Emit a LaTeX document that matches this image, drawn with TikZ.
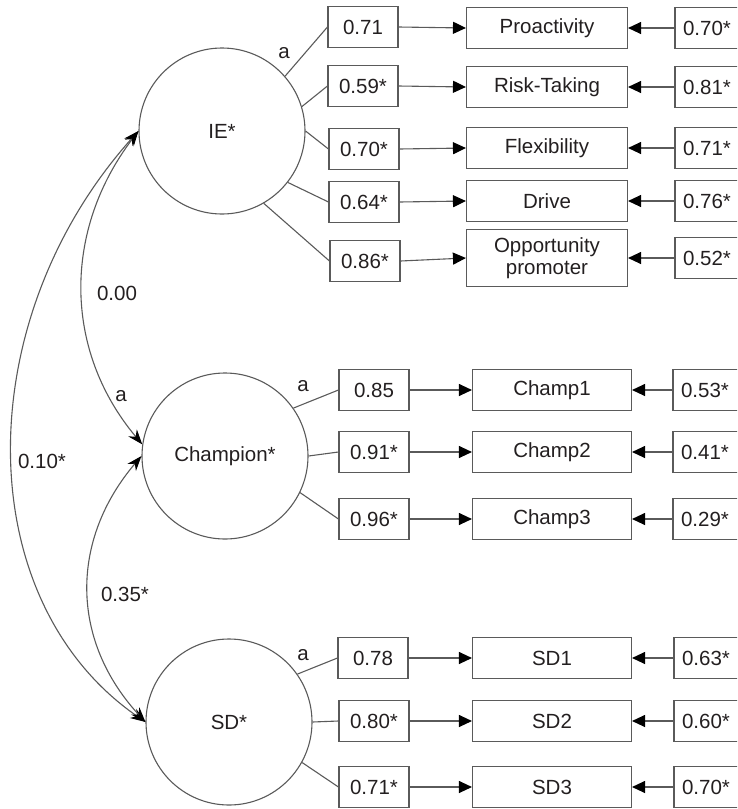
\documentclass[tikz,border=0pt]{standalone}
\usepackage{fontspec}
\setmainfont{Liberation Sans}
\usetikzlibrary{arrows.meta}
\definecolor{ln}{HTML}{5A5A5A}
\definecolor{tx}{HTML}{231F20}
\begin{document}
\begin{tikzpicture}[x=1pt,y=-1pt,
  every node/.style={font=\fontsize{20.5}{25}\selectfont, text=tx},
  latent/.style={circle, draw=ln, line width=1.1pt, minimum size=166pt, inner sep=0pt},
  ldbox/.style={draw=ln, line width=1.1pt, minimum width=70pt, minimum height=41pt, inner sep=0pt},
  indbox/.style={draw=ln, line width=1.1pt, minimum width=161pt, minimum height=41pt, inner sep=0pt, align=center},
  errbox/.style={draw=ln, line width=1.1pt, minimum width=70pt, minimum height=41pt, inner sep=0pt},
  path/.style={draw=ln, line width=1.1pt},
  arr/.style={draw=ln, line width=1.1pt, -{Triangle[length=13pt,width=12pt,fill=black,color=black]}},
  cov/.style={draw=ln, line width=1.1pt, {Stealth[length=15pt,width=11pt,fill=black,color=black]}-{Stealth[length=15pt,width=11pt,fill=black,color=black]}},
  lab/.style={inner sep=0pt}
]
\useasboundingbox (0,0) rectangle (737,809);
\clip (0,0) rectangle (737,809);

% latent variables
\node[latent] (IE) at (222,131) {IE*};
\node[latent] (CH) at (225,456) {Champion*};
\node[latent] (SD) at (229,722) {SD*};

% IE block
\node[ldbox] (l1) at (363,27) {0.71};
\node[ldbox] (l2) at (363,86) {0.59*};
\node[ldbox] (l3) at (364,149) {0.70*};
\node[ldbox] (l4) at (364,202) {0.64*};
\node[ldbox] (l5) at (365,261) {0.86*};
\node[indbox] (i1) at (547,28) {Proactivity};
\node[indbox] (i2) at (547,87) {Risk-Taking};
\node[indbox] (i3) at (547,148) {Flexibility};
\node[indbox] (i4) at (547,201) {Drive};
\node[indbox, minimum height=57pt] (i5) at (547,258) {Opportunity\\[-3pt]promoter};
\node[errbox] (e1) at (710,28) {\hspace*{-6pt}0.70*};
\node[errbox] (e2) at (710,87) {\hspace*{-6pt}0.81*};
\node[errbox] (e3) at (710,148) {\hspace*{-6pt}0.71*};
\node[errbox] (e4) at (710,201) {\hspace*{-6pt}0.76*};
\node[errbox] (e5) at (710,258) {\hspace*{-6pt}0.52*};

% Champion block
\node[ldbox] (c1l) at (374,390) {0.85};
\node[ldbox] (c2l) at (374,452) {0.91*};
\node[ldbox] (c3l) at (374,519) {0.96*};
\node[indbox, minimum width=159pt] (c1) at (552,390) {Champ1};
\node[indbox, minimum width=159pt] (c2) at (552,452) {Champ2};
\node[indbox, minimum width=159pt] (c3) at (552,519) {Champ3};
\node[errbox] (ce1) at (708,390) {\hspace*{-6pt}0.53*};
\node[errbox] (ce2) at (708,452) {\hspace*{-6pt}0.41*};
\node[errbox] (ce3) at (708,519) {\hspace*{-6pt}0.29*};

% SD block
\node[ldbox] (s1l) at (373,658) {0.78};
\node[ldbox] (s2l) at (374,721) {0.80*};
\node[ldbox] (s3l) at (374,787) {0.71*};
\node[indbox, minimum width=159pt] (s1) at (552,658) {SD1};
\node[indbox, minimum width=159pt] (s2) at (552,721) {SD2};
\node[indbox, minimum width=159pt] (s3) at (552,787) {SD3};
\node[errbox] (se1) at (709,658) {\hspace*{-6pt}0.63*};
\node[errbox] (se2) at (709,721) {\hspace*{-6pt}0.60*};
\node[errbox] (se3) at (709,787) {\hspace*{-6pt}0.70*};

% latent to loading boxes
\draw[path] (IE.41) -- (l1.west);
\draw[path] (IE.17) -- (l2.west);
\draw[path] (IE.0) -- (l3.west);
\draw[path] (IE.-38) -- (l4.west);
\draw[path] (IE.-60) -- (l5.west);
\draw[path] (CH.35) -- (c1l.west);
\draw[path] (CH.0) -- (c2l.west);
\draw[path] (CH.-26) -- (c3l.west);
\draw[path] (SD.35) -- (s1l.west);
\draw[path] (SD.0) -- (s2l.west);
\draw[path] (SD.-29) -- (s3l.west);

% loading boxes to indicators
\foreach \a/\b in {l1/i1,l2/i2,l3/i3,l4/i4,l5/i5,c1l/c1,c2l/c2,c3l/c3,s1l/s1,s2l/s2,s3l/s3}
  \draw[arr] (\a.east) -- (\b.west);
% errors to indicators
\foreach \a/\b in {e1/i1,e2/i2,e3/i3,e4/i4,e5/i5,ce1/c1,ce2/c2,ce3/c3,se1/s1,se2/s2,se3/s3}
  \draw[arr] (\a.west) -- (\b.east);

% "a" labels
\node[lab] (aIE) at (284,53) {a};
\node[lab] (aCH) at (303,386) {a};
\node[lab] (aSD) at (303,655) {a};

% covariances
\draw[cov] (IE.180) .. controls (63,230) and (63,350) .. (CH.172);
\draw[cov] (IE.180) .. controls (-31,320) and (-31,600) .. (SD.180);
\draw[cov] (CH.180) .. controls (70,540) and (70,640) .. (SD.180);
\node[lab] (v1) at (117,293) {0.00};
\node[lab] (va) at (121,396) {a};
\node[lab] (v2) at (42,461) {0.10*};
\node[lab] (v3) at (125,594) {0.35*};
\end{tikzpicture}
\end{document}
